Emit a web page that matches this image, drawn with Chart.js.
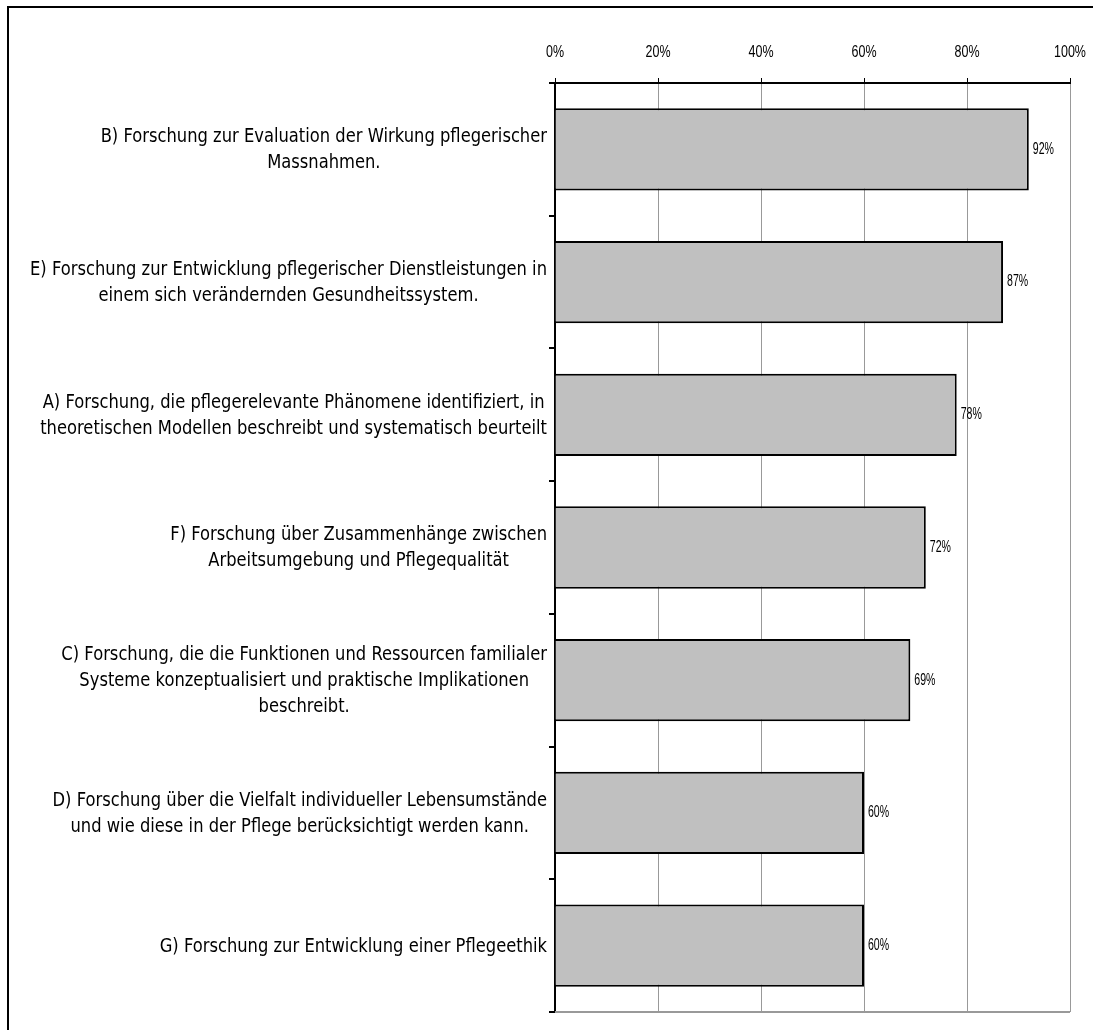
<!DOCTYPE html>
<html>
<head>
<meta charset="utf-8">
<script src="https://cdn.jsdelivr.net/npm/chart.js@4"></script>
<style>
html, body { margin: 0; padding: 0; background: #fff; overflow: hidden; }
#frame { position: absolute; left: 7px; top: 6px; width: 1200px; height: 1200px; border: 2px solid #000; }
#wrap { position: absolute; left: 0; top: 0; width: 1093px; height: 1030px; }
</style>
</head>
<body>
<div id="frame"></div>
<div id="wrap"><canvas id="canvas" width="1093" height="1030"></canvas></div>
<script>
var categories = [
    ['B) Forschung zur Evaluation der Wirkung pflegerischer', 'Massnahmen.'],
    ['E) Forschung zur Entwicklung pflegerischer Dienstleistungen in', 'einem sich verändernden Gesundheitssystem.'],
    ['A) Forschung, die pflegerelevante Phänomene identifiziert, in', 'theoretischen Modellen beschreibt und systematisch beurteilt'],
    ['F) Forschung über Zusammenhänge zwischen', 'Arbeitsumgebung und Pflegequalität'],
    ['C) Forschung, die die Funktionen und Ressourcen familialer', 'Systeme konzeptualisiert und praktische Implikationen', 'beschreibt.'],
    ['D) Forschung über die Vielfalt individueller Lebensumstände', 'und wie diese in der Pflege berücksichtigt werden kann.'],
    ['G) Forschung zur Entwicklung einer Pflegeethik']
];
var values = [92, 87, 78, 72, 69, 60, 60];
var xMin = 0;
var xMax = 100;
var xStep = 20;

// draws text squeezed horizontally (the original uses a narrow font)
function narrowText(ctx, text, x, y, sx) {
    ctx.save();
    ctx.translate(x, y);
    ctx.scale(sx, 1);
    ctx.fillText(text, 0, 0);
    ctx.restore();
}

var labelPlugin = {
    id: 'textLabels',
    afterDraw: function(chart) {
        var ctx = chart.ctx;
        var a = chart.chartArea;
        var yScale = chart.scales.y;
        var xScale = chart.scales.x;
        ctx.save();
        ctx.fillStyle = '#000';
        ctx.textBaseline = 'middle';

        // category labels: block right aligned, lines centered in the block
        var sx = 0.86;
        var right = a.left - 8;
        ctx.font = '19px "DejaVu Sans"';
        ctx.textAlign = 'center';
        categories.forEach(function(lines, i) {
            var cy = yScale.getPixelForValue(i) + 1;
            var w = 0;
            lines.forEach(function(l) { w = Math.max(w, ctx.measureText(l).width); });
            var cx = right - w * sx / 2;
            lines.forEach(function(l, j) {
                narrowText(ctx, l, cx, cy + (j - (lines.length - 1) / 2) * 26, sx);
            });
        });

        // x tick labels
        ctx.font = '16px "Liberation Sans"';
        xScale.ticks.forEach(function(t) {
            narrowText(ctx, t.value + '%', xScale.getPixelForValue(t.value), 53, 0.78);
        });

        // bottom border of the plot area
        ctx.strokeStyle = '#999';
        ctx.lineWidth = 2;
        ctx.beginPath();
        ctx.moveTo(a.left, a.bottom);
        ctx.lineTo(a.right, a.bottom);
        ctx.stroke();

        // value labels
        ctx.font = '16px "Liberation Sans"';
        ctx.textAlign = 'left';
        var meta = chart.getDatasetMeta(0);
        meta.data.forEach(function(bar, i) {
            narrowText(ctx, values[i] + '%', bar.x + 4, bar.y, 0.66);
        });
        ctx.restore();
    }
};

var config = {
    type: 'bar',
    data: {
        labels: categories,
        datasets: [{
            data: values,
            backgroundColor: '#c0c0c0',
            borderColor: '#000',
            borderWidth: 2,
            barPercentage: 0.62,
            categoryPercentage: 1
        }]
    },
    options: {
        indexAxis: 'y',
        responsive: false,
        animation: false,
        layout: {
            padding: { left: 0, top: 0, right: 23, bottom: 18 }
        },
        plugins: {
            legend: { display: false },
            tooltip: { enabled: false }
        },
        scales: {
            x: {
                position: 'top',
                min: xMin,
                max: xMax,
                ticks: {
                    display: false,
                    stepSize: xStep
                },
                grid: {
                    color: '#999',
                    tickColor: '#000',
                    tickLength: 5,
                    lineWidth: 1
                },
                border: { color: '#000', width: 2 },
                afterFit: function(s) { s.height = 83; }
            },
            y: {
                ticks: { display: false },
                grid: {
                    drawOnChartArea: false,
                    offset: true,
                    tickColor: '#000',
                    tickLength: 6,
                    lineWidth: 2
                },
                border: { color: '#000', width: 2 },
                afterFit: function(s) { s.width = 555; }
            }
        }
    },
    plugins: [labelPlugin]
};

window.onload = function() {
    var ctx = document.getElementById('canvas').getContext('2d');
    window.myBar = new Chart(ctx, config);
};
</script>
</body>
</html>
